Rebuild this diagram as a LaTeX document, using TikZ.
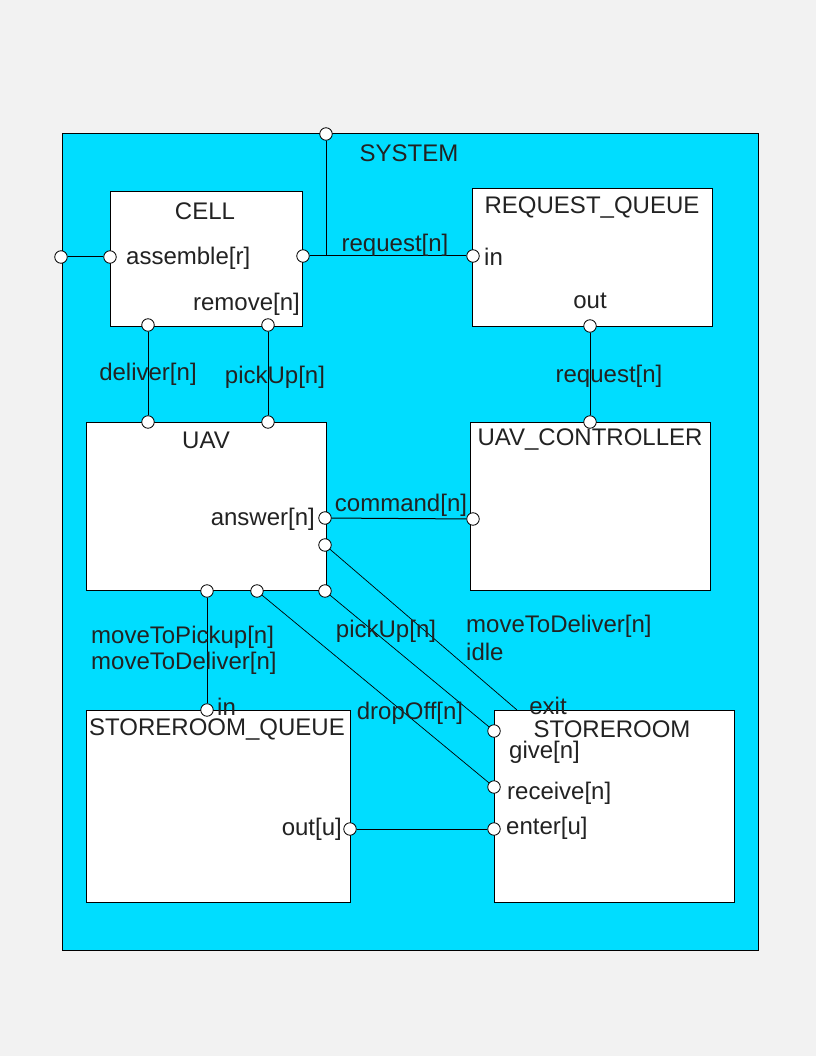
\documentclass[tikz,border=0pt]{standalone}
\usepackage{fontspec}
\setmainfont{Liberation Sans}
\definecolor{bgc}{HTML}{F2F2F2}
\definecolor{sysc}{HTML}{00DDFF}
\definecolor{txtc}{HTML}{222222}
\tikzset{
  sysbox/.style={draw=black, fill=sysc, line width=1pt, inner sep=0pt},
  box/.style={draw=black, fill=white, line width=1pt, inner sep=0pt},
  port/.style={circle, draw=black, fill=white, line width=0.8pt, inner sep=0pt, minimum size=12.5pt},
  wire/.style={draw=black, line width=1pt},
  thinwire/.style={draw=black, line width=0.7pt},
  lbl/.style={font=\fontsize{24}{28}\selectfont, text=txtc, inner sep=0pt},
}
\begin{document}
\begin{tikzpicture}[x=1pt,y=-1pt]
\useasboundingbox[fill=bgc] (0,0) rectangle (816,1056);
% system
\node[sysbox, minimum width=696pt, minimum height=816pt] (system) at (410,542) {};
% boxes
\node[box, minimum width=192pt, minimum height=134pt] (cell) at (206,259) {};
\node[box, minimum width=240pt, minimum height=137pt] (rq) at (592,257.5) {};
\node[box, minimum width=240pt, minimum height=168pt] (uav) at (206,506) {};
\node[box, minimum width=240pt, minimum height=168pt] (uavc) at (590,506) {};
\node[box, minimum width=264pt, minimum height=192pt] (sq) at (218,806) {};
\node[box, minimum width=240pt, minimum height=192pt] (st) at (614,806) {};
% ports
\node[port] (pSysTop) at (326,134) {};
\node[port] (pSysLeft) at (61,257) {};
\node[port] (pCellL) at (110,257) {};
\node[port] (pCellR) at (303,256) {};
\node[port] (pCellB1) at (148,325) {};
\node[port] (pCellB2) at (268,325) {};
\node[port] (pRqIn) at (473,256) {};
\node[port] (pRqOut) at (590,326) {};
\node[port] (pUcTop) at (590,422) {};
\node[port] (pUcL) at (473,519) {};
\node[port] (pUavT1) at (148,422) {};
\node[port] (pUavT2) at (268,422) {};
\node[port] (pUavR1) at (325,518) {};
\node[port] (pUavR2) at (325,545) {};
\node[port] (pUavC) at (325,591) {};
\node[port] (pUavB1) at (207,591) {};
\node[port] (pUavB2) at (257,591) {};
\node[port] (pSqIn) at (207,710) {};
\node[port] (pSqOut) at (350,829) {};
\node[port] (pStGive) at (494,731) {};
\node[port] (pStRecv) at (494,787) {};
\node[port] (pStEnter) at (494,829) {};
\coordinate (jReq) at (326,256);
\coordinate (stExit) at (517,710);
% connectors
\draw[wire] (pSysLeft) -- (pCellL);
\draw[wire] (pCellR) -- (pRqIn);
\draw[wire] (pSysTop) -- (jReq);
\draw[wire] (pCellB1) -- (pUavT1);
\draw[wire] (pCellB2) -- (pUavT2);
\draw[wire] (pRqOut) -- (pUcTop);
\draw[wire] (pUavR1) -- (pUcL);
\draw[wire] (pUavB1) -- (pSqIn);
\draw[wire] (pSqOut) -- (pStEnter);
\draw[thinwire] (pUavR2) -- (stExit);
\draw[thinwire] (pUavC) -- (pStGive);
\draw[thinwire] (pUavB2) -- (pStRecv);
% labels
\node[lbl] at (409,153) {SYSTEM};
\node[lbl] at (205,211) {CELL};
\node[lbl, anchor=west] at (126,258) {assemble[r]};
\node[lbl, anchor=east] at (300,304) {remove[n]};
\node[lbl] at (395,245) {request[n]};
\node[lbl] at (592,208) {REQUEST\_QUEUE};
\node[lbl, anchor=west] at (484,257) {in};
\node[lbl] at (590,301) {out};
\node[lbl] at (609,376) {request[n]};
\node[lbl] at (148,374) {deliver[n]};
\node[lbl] at (275,377) {pickUp[n]};
\node[lbl] at (206,440) {UAV};
\node[lbl] at (590,440) {UAV\_CONTROLLER};
\node[lbl, anchor=east] at (315,519) {answer[n]};
\node[lbl] at (401,505) {command[n]};
\node[lbl, anchor=west] at (91,637) {moveToPickup[n]};
\node[lbl, anchor=west] at (91,663) {moveToDeliver[n]};
\node[lbl] at (386,631) {pickUp[n]};
\node[lbl, anchor=west] at (466,626) {moveToDeliver[n]};
\node[lbl, anchor=west] at (466,652) {idle};
\node[lbl, anchor=west] at (217,707) {in};
\node[lbl] at (548,706) {exit};
\node[lbl] at (410,713) {dropOff[n]};
\node[lbl] at (217,729) {STOREROOM\_QUEUE};
\node[lbl] at (612,729) {STOREROOM};
\node[lbl, anchor=west] at (509,752) {give[n]};
\node[lbl, anchor=west] at (507,793) {receive[n]};
\node[lbl, anchor=west] at (506,828) {enter[u]};
\node[lbl, anchor=east] at (342,829) {out[u]};
\end{tikzpicture}
\end{document}
